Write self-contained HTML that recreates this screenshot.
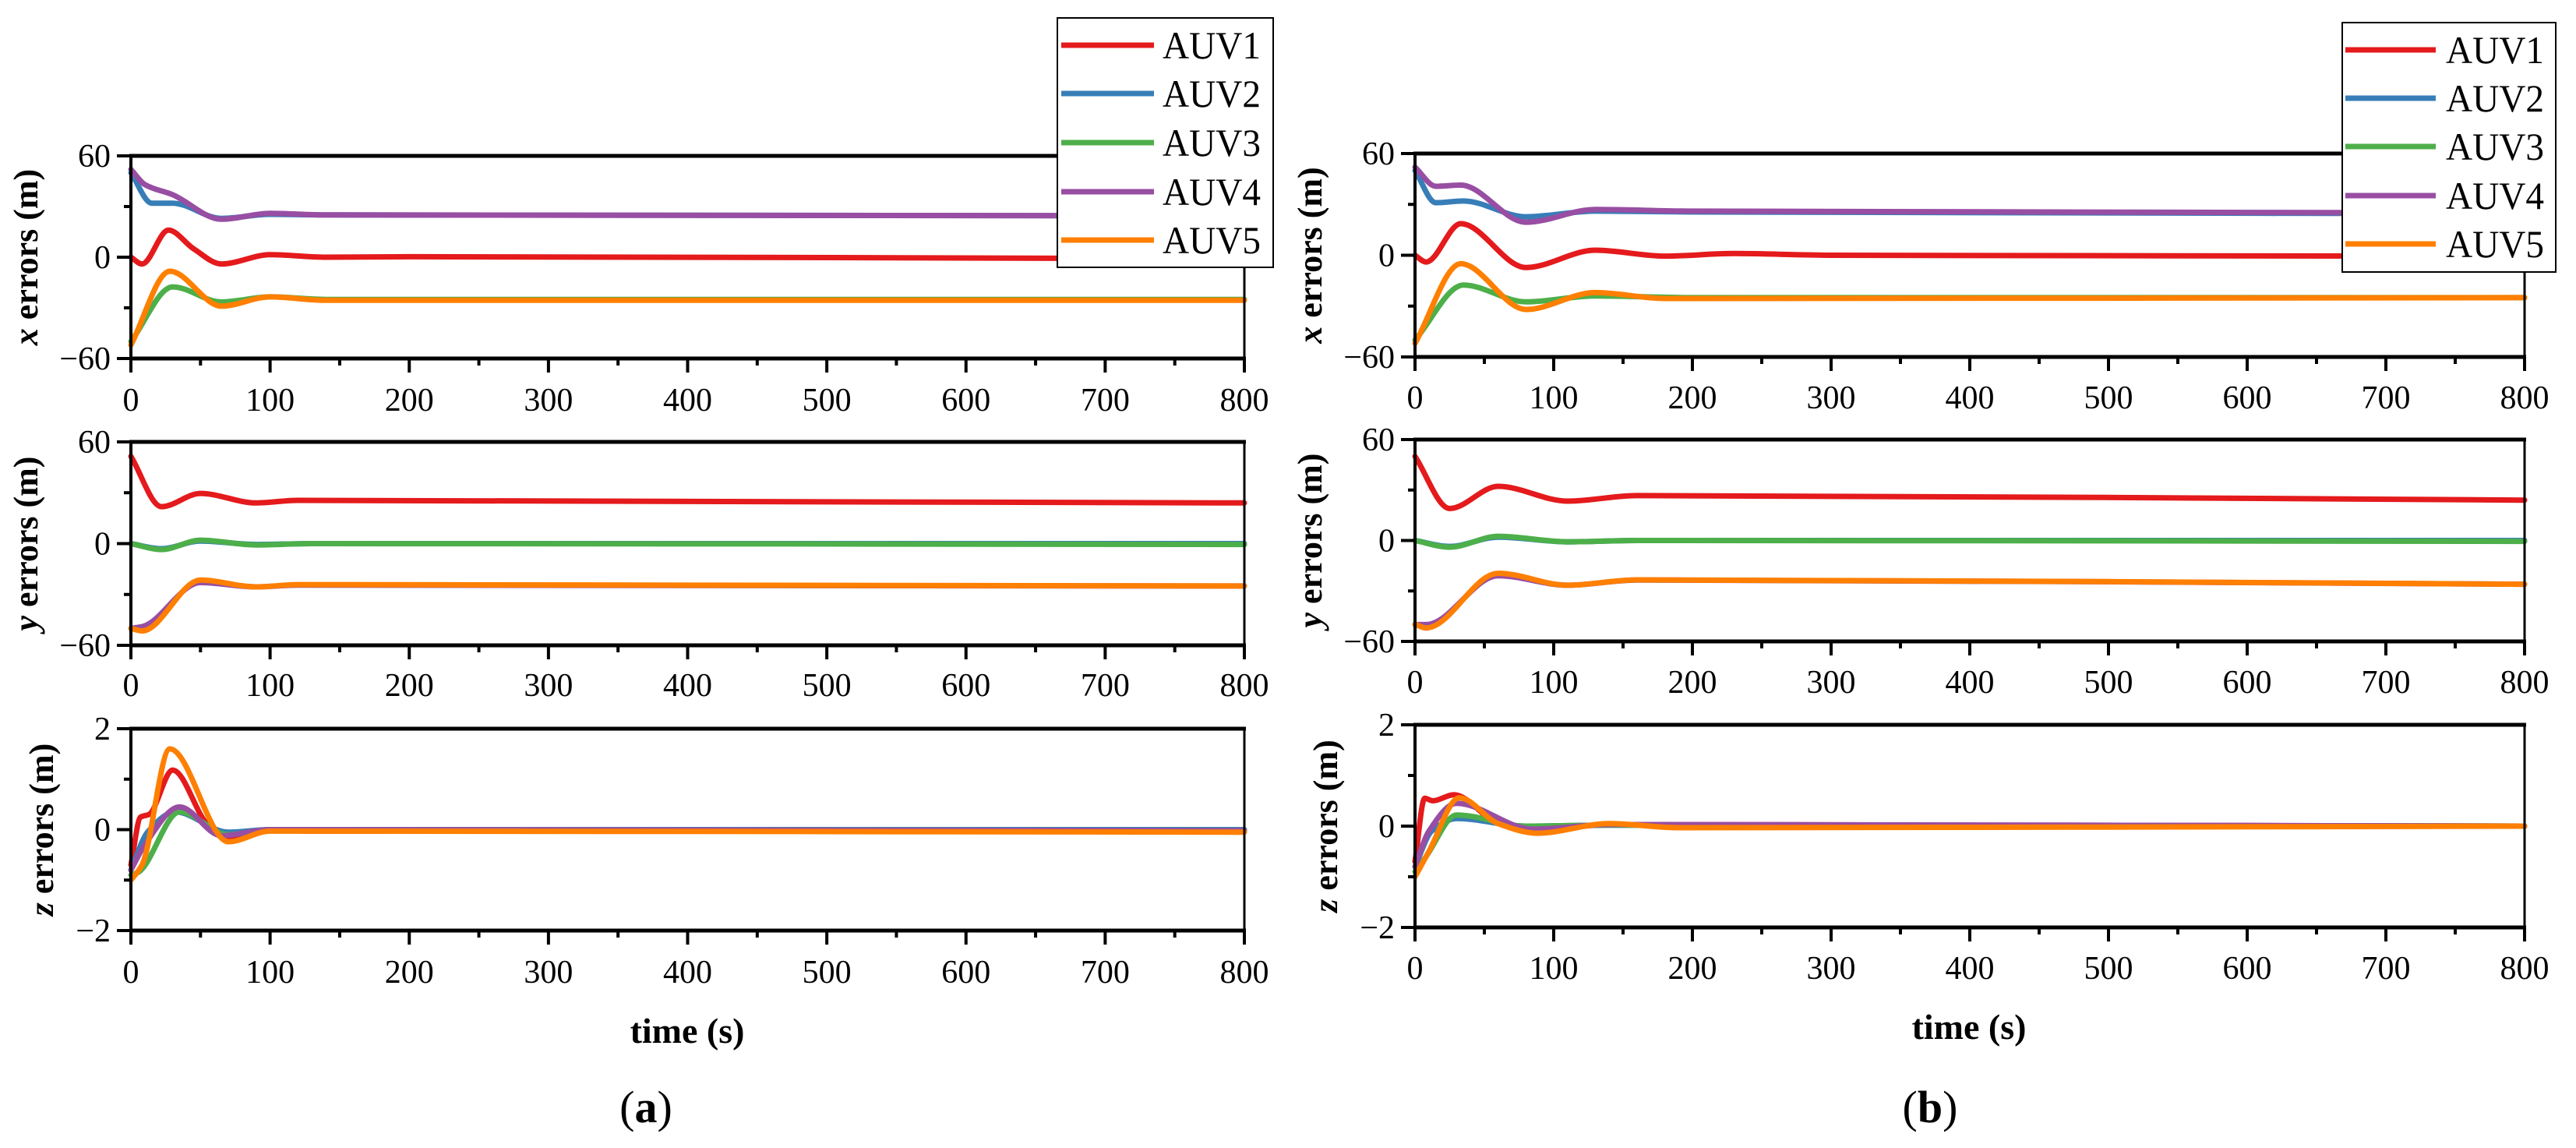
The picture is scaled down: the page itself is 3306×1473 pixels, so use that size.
<!DOCTYPE html>
<html><head><meta charset="utf-8">
<style>
html,body{margin:0;padding:0;background:#fff;}
svg{display:block;}
text{font-family:"Liberation Serif",serif;fill:#000;}
</style></head>
<body>
<svg id="fig" width="3306" height="1473" viewBox="0 0 3306 1473" xmlns="http://www.w3.org/2000/svg"></svg>
<script>
// ---- data (time in s, error values) ----
const seriesNames = ["AUV1","AUV2","AUV3","AUV4","AUV5"];
const seriesColors = ["#e41a1c","#377eb8","#4daf4a","#984ea3","#ff7f00"];
const xTicks = [0,100,200,300,400,500,600,700,800];
const xyTicks = [-60,0,60];
const zTicks = [-2,0,2];

// Panel (a)
const aX_t1 = [0,8,27,45,65,100,140,200,800];   const aX_v1 = [0,-4,16,5,-4,1.5,0,0.3,-1];
const aX_t2 = [0,15,30,65,100,140,800];         const aX_v2 = [50,32,32,23,25.4,25,24.5];
const aX_t3 = [0,30,65,100,140,800];            const aX_v3 = [-50,-17.6,-26.5,-23.5,-25,-25];
const aX_t4 = [0,10,30,65,100,140,800];         const aX_v4 = [52,43,37,22.5,26,25,24.5];
const aX_t5 = [0,28,65,100,140,800];            const aX_v5 = [-52,-8.3,-29,-23.5,-25.5,-25.5];

const aY_t1 = [0,22,50,90,120,800];             const aY_v1 = [51.5,21.8,29.6,24,25.5,24];
const aY_t2 = [0,22,50,90,130,800];             const aY_v2 = [0,-3,1.5,-0.5,0,0];
const aY_t3 = [0,22,50,90,130,800];             const aY_v3 = [0,-3.5,2,-0.8,0,-0.5];
const aY_t4 = [0,8,50,90,120,800];              const aY_v4 = [-50,-49,-23,-25.5,-24.5,-25];
const aY_t5 = [0,8,50,90,120,800];              const aY_v5 = [-50,-51.5,-21.5,-25.5,-24.2,-25];

const aZ_t1 = [0,7,13,30,55,70,100,130,800];    const aZ_v1 = [-0.7,0.25,0.3,1.18,0.1,-0.2,0,-0.03,-0.03];
const aZ_t2 = [0,12,32,70,100,800];             const aZ_v2 = [-0.8,-0.05,0.35,-0.05,0,0];
const aZ_t3 = [0,5,35,70,100,800];              const aZ_v3 = [-0.9,-0.85,0.35,-0.1,0,-0.02];
const aZ_t4 = [0,10,35,65,100,800];             const aZ_v4 = [-0.8,-0.3,0.45,-0.12,0,-0.02];
const aZ_t5 = [0,8,28,70,100,130,800];          const aZ_v5 = [-1.0,-0.7,1.6,-0.24,-0.03,-0.03,-0.05];

// Panel (b)
const bX_t1 = [0,8,33,80,130,180,230,300,800];  const bX_v1 = [0,-4,18.6,-7.2,3,-0.5,1,0,-0.5];
const bX_t2 = [0,15,35,80,130,200,800];         const bX_v2 = [50,31,32,22.7,26,25.5,24.5];
const bX_t3 = [0,35,80,130,200,800];            const bX_v3 = [-50,-17.6,-27.5,-24,-25,-25];
const bX_t4 = [0,15,33,80,130,200,800];         const bX_v4 = [52,40.7,41.4,19.5,27,26,25];
const bX_t5 = [0,33,80,130,180,800];            const bX_v5 = [-52,-5,-32,-22,-25.5,-25];

const bY_t1 = [0,25,60,110,160,800];            const bY_v1 = [50,19,32.2,23.4,26.7,24];
const bY_t2 = [0,25,60,110,160,800];            const bY_v2 = [0,-3.5,2,-0.8,0,0];
const bY_t3 = [0,25,60,110,160,800];            const bY_v3 = [0,-4,2.5,-0.8,0,-0.5];
const bY_t4 = [0,8,60,110,160,800];             const bY_v4 = [-50,-50,-21,-26.6,-23.5,-26];
const bY_t5 = [0,8,60,110,160,800];             const bY_v5 = [-49.8,-52,-19.5,-26.6,-23.4,-26];

const bZ_t1 = [0,7,13,28,60,85,140,800];        const bZ_v1 = [-0.7,0.55,0.5,0.62,0.05,-0.1,0.03,0];
const bZ_t2 = [0,12,30,80,140,800];             const bZ_v2 = [-0.8,-0.1,0.15,0,0.02,0];
const bZ_t3 = [0,8,30,80,140,800];              const bZ_v3 = [-0.9,-0.6,0.22,0,0.02,0];
const bZ_t4 = [0,10,30,85,140,800];             const bZ_v4 = [-0.8,-0.1,0.45,-0.06,0.03,0];
const bZ_t5 = [0,10,32,60,88,140,190,800];      const bZ_v5 = [-1.0,-0.5,0.56,0.05,-0.14,0.05,-0.03,0];

// ---- layout ----
const NS = "http://www.w3.org/2000/svg";
const svg = document.getElementById('fig');
function mk(tag, attrs, parent){const e=document.createElementNS(NS,tag);for(const k in attrs)e.setAttribute(k,attrs[k]);(parent||svg).appendChild(e);return e;}

// monotone cubic (Fritsch-Carlson) path in pixel space; x strictly increasing
function smoothPath(pts){
  const n=pts.length, dx=[], sl=[], m=[];
  for(let i=0;i<n-1;i++){dx[i]=pts[i+1][0]-pts[i][0]; sl[i]=(pts[i+1][1]-pts[i][1])/dx[i];}
  m[0]=sl[0]; m[n-1]=sl[n-2];
  for(let i=1;i<n-1;i++){
    if(sl[i-1]*sl[i]<=0) m[i]=0;
    else { const w1=2*dx[i]+dx[i-1], w2=dx[i]+2*dx[i-1]; m[i]=(w1+w2)/(w1/sl[i-1]+w2/sl[i]); }
  }
  let d="M"+pts[0][0].toFixed(1)+","+pts[0][1].toFixed(1);
  for(let i=0;i<n-1;i++){
    const h=dx[i]/3;
    d+=" C"+(pts[i][0]+h).toFixed(1)+","+(pts[i][1]+m[i]*h).toFixed(1)+" "+(pts[i+1][0]-h).toFixed(1)+","+(pts[i+1][1]-m[i+1]*h).toFixed(1)+" "+pts[i+1][0].toFixed(1)+","+pts[i+1][1].toFixed(1);
  }
  return d;
}

function drawPanel(id, L, R, T, B, yMin, yMax, yTicks, label, data, xlabY){
  const g = mk('g',{});
  
  
  const sx = v => L + (v-0)/(800-0)*(R-L);
  const sy = v => B - (v-yMin)/(yMax-yMin)*(B-T);
  const sg = mk('g',{},g);
  
  
  data.forEach((s,i)=>{
    const pts = s[0].map((t,j)=>[sx(t), sy(s[1][j])]);
    const p = mk('path',{d:smoothPath(pts),fill:'none',stroke:seriesColors[i],'stroke-width':7,'stroke-linejoin':'round','stroke-linecap':'round'},sg);
    
    
  });
  const f = mk('g',{},g);
  
  
  mk('line',{x1:L-2,y1:T,x2:R+2,y2:T,stroke:'#000','stroke-width':5},f);
  mk('line',{x1:L-2,y1:B,x2:R+2,y2:B,stroke:'#000','stroke-width':5},f);
  mk('line',{x1:L,y1:T,x2:L,y2:B,stroke:'#000','stroke-width':4},f);
  mk('line',{x1:R,y1:T,x2:R,y2:B,stroke:'#000','stroke-width':3},f);
  const xa = mk('g',{},g);
  
  
  for(let v=0; v<=800; v+=50){
    const major = v%100===0;
    mk('line',{x1:sx(v),y1:B,x2:sx(v),y2:B+(major?18:9),stroke:'#000','stroke-width':4},xa);
  }
  xTicks.forEach(v=>{
    const t = mk('text',{x:sx(v),y:xlabY,'font-size':42,'text-anchor':'middle'},xa);
    t.textContent = v;
    
    
  });
  const ya = mk('g',{},g);
  
  
  const step = (yMax-yMin)/4;
  for(let k=0;k<=4;k++){
    const v = yMin+k*step, major = k%2===0;
    mk('line',{x1:L-(major?18:9),y1:sy(v),x2:L,y2:sy(v),stroke:'#000','stroke-width':4},ya);
  }
  yTicks.forEach(v=>{
    const t = mk('text',{x:L-26,y:sy(v)+14,'font-size':42,'text-anchor':'end'},ya);
    t.textContent = v<0 ? '\u2212'+Math.abs(v) : String(v);
    
    
  });
  const lx = L-120 + (label==='z'?20:0), ly=(T+B)/2;
  const yl = mk('text',{x:lx,y:ly,'font-size':44,'font-weight':'bold','text-anchor':'middle',transform:'rotate(-90 '+lx+' '+ly+')'},g);
  
  
  const it = mk('tspan',{'font-style':'italic'},yl); it.textContent=label;
  const rest = mk('tspan',{},yl); rest.textContent=' errors (m)';
}

function drawLegend(id, x0, y0, x1, y1, ys, lx0, lx1, tx){
  const g = mk('g',{});
  
  
  mk('rect',{x:x0,y:y0,width:x1-x0,height:y1-y0,fill:'#fff',stroke:'#000','stroke-width':2},g);
  seriesNames.forEach((n,i)=>{
    const e = mk('g',{},g);
    
    
    mk('line',{x1:lx0,y1:ys[i],x2:lx1,y2:ys[i],stroke:seriesColors[i],'stroke-width':7},e);
    const t = mk('text',{x:tx,y:ys[i]+17,'font-size':50,textLength:126,lengthAdjust:'spacingAndGlyphs'},e);
    t.textContent = n;
  });
}

drawPanel('a-x-panel',168,1597,200,460,-60,60,xyTicks,'x',
  [[aX_t1,aX_v1],[aX_t2,aX_v2],[aX_t3,aX_v3],[aX_t4,aX_v4],[aX_t5,aX_v5]],527);
drawPanel('a-y-panel',168,1597,567,828,-60,60,xyTicks,'y',
  [[aY_t1,aY_v1],[aY_t2,aY_v2],[aY_t3,aY_v3],[aY_t4,aY_v4],[aY_t5,aY_v5]],893);
drawPanel('a-z-panel',168,1597,935,1194,-2,2,zTicks,'z',
  [[aZ_t1,aZ_v1],[aZ_t2,aZ_v2],[aZ_t3,aZ_v3],[aZ_t4,aZ_v4],[aZ_t5,aZ_v5]],1261);
drawPanel('b-x-panel',1816,3240,197,458,-60,60,xyTicks,'x',
  [[bX_t1,bX_v1],[bX_t2,bX_v2],[bX_t3,bX_v3],[bX_t4,bX_v4],[bX_t5,bX_v5]],524);
drawPanel('b-y-panel',1816,3240,564,823,-60,60,xyTicks,'y',
  [[bY_t1,bY_v1],[bY_t2,bY_v2],[bY_t3,bY_v3],[bY_t4,bY_v4],[bY_t5,bY_v5]],889);
drawPanel('b-z-panel',1816,3240,930,1190,-2,2,zTicks,'z',
  [[bZ_t1,bZ_v1],[bZ_t2,bZ_v2],[bZ_t3,bZ_v3],[bZ_t4,bZ_v4],[bZ_t5,bZ_v5]],1256);

drawLegend('a-legend',1357,23,1634,343,[58,120,183,246,308],1362,1481,1492);
drawLegend('b-legend',3006,29,3280,349,[64,126,188,251,313],3010,3126,3139);

[[882,1338,'a-x-axis-title'],[2527,1333,'b-x-axis-title']].forEach(a=>{
  const t = mk('text',{x:a[0],y:a[1],'font-size':46,'font-weight':'bold','text-anchor':'middle'});
  t.textContent='time (s)';
  
  
});
[[829,1440,'a','caption-a'],[2477,1440,'b','caption-b']].forEach(a=>{
  const t = mk('text',{x:a[0],y:a[1],'font-size':58,'text-anchor':'middle'});
  
  
  const p1=mk('tspan',{},t); p1.textContent='(';
  const p2=mk('tspan',{'font-weight':'bold'},t); p2.textContent=a[2];
  const p3=mk('tspan',{},t); p3.textContent=')';
});
</script>
</body></html>
